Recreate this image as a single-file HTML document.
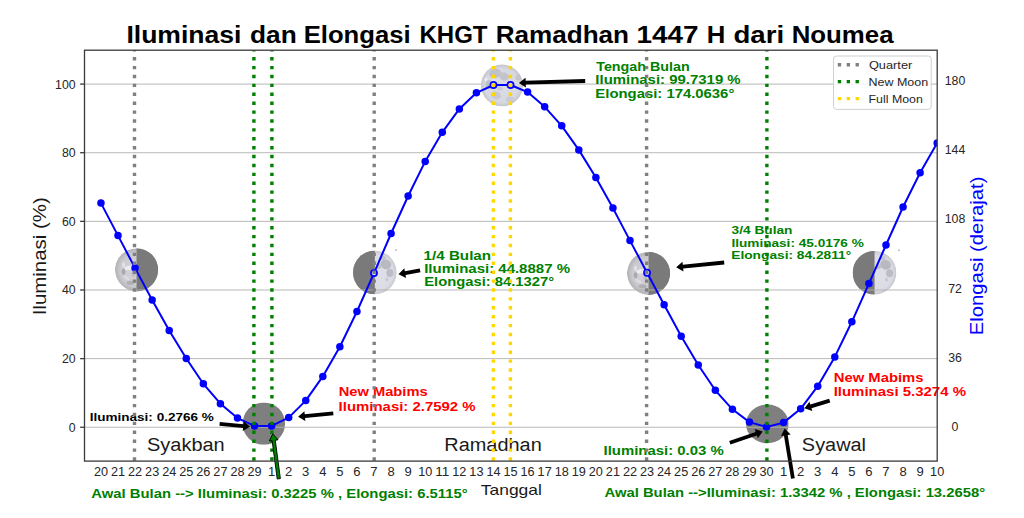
<!DOCTYPE html>
<html><head><meta charset="utf-8"><style>html,body{margin:0;padding:0;width:1024px;height:518px;overflow:hidden;background:#fff}</style></head><body>
<svg width="1024" height="518" viewBox="0 0 1024 518" style="position:absolute;left:0;top:0;font-family:'Liberation Sans', sans-serif">
<rect width="1024" height="518" fill="#fff"/>
<defs><radialGradient id="gfull"><stop offset="0" stop-color="#dcdce6"/><stop offset="0.8" stop-color="#d8d8e2"/><stop offset="1" stop-color="#c4c4ca"/></radialGradient><radialGradient id="glight"><stop offset="0" stop-color="#e0e0ea"/><stop offset="0.82" stop-color="#dcdce6"/><stop offset="1" stop-color="#c8c8ce"/></radialGradient><radialGradient id="ggray"><stop offset="0" stop-color="#d6d6da"/><stop offset="0.75" stop-color="#cbcbcf"/><stop offset="1" stop-color="#b2b2b6"/></radialGradient></defs>
<clipPath id="c136269"><circle cx="136.55" cy="269.85" r="21.6"/></clipPath>
<g clip-path="url(#c136269)">
<circle cx="136.55" cy="269.85" r="21.6" fill="url(#ggray)"/>
<ellipse cx="128.55" cy="267.85" rx="4" ry="2.2" fill="#ececf0" transform="rotate(-10 128.55 267.85)"/>
<ellipse cx="123.55" cy="264.85" rx="1.4" ry="2.8" fill="#e4e4e8" transform="rotate(0 123.55 264.85)"/>
<ellipse cx="131.55" cy="260.85" rx="2" ry="1.4" fill="#e0e0e4" transform="rotate(0 131.55 260.85)"/>
<ellipse cx="126.55" cy="277.85" rx="3.5" ry="1.6" fill="#dcdce0" transform="rotate(30 126.55 277.85)"/>
<ellipse cx="123.55" cy="271.85" rx="1.8" ry="3" fill="#a9a9ad" transform="rotate(0 123.55 271.85)"/>
<ellipse cx="130.55" cy="282.85" rx="4" ry="2" fill="#b0b0b4" transform="rotate(0 130.55 282.85)"/>
<ellipse cx="133.55" cy="273.85" rx="2" ry="3" fill="#bdbdc1" transform="rotate(0 133.55 273.85)"/>
<rect x="136.55" y="248.25000000000003" width="21.6" height="43.2" fill="#7a7a7a"/>
</g>
<clipPath id="c263423"><circle cx="263.85" cy="423.6" r="21.2"/></clipPath>
<g clip-path="url(#c263423)">
<rect x="242.65000000000003" y="402.40000000000003" width="42.4" height="42.4" fill="#7f7f7f"/>
</g>
<clipPath id="c374272"><circle cx="374.85" cy="272.4" r="21.9"/></clipPath>
<g clip-path="url(#c374272)">
<circle cx="374.85" cy="272.4" r="21.9" fill="url(#glight)"/>
<ellipse cx="385.85" cy="264.40" rx="5.5" ry="4.8" fill="#b9b9c1" transform="rotate(20 385.85 264.40)"/>
<ellipse cx="389.85" cy="272.90" rx="3.5" ry="4" fill="#bcbcc4" transform="rotate(0 389.85 272.90)"/>
<ellipse cx="378.85" cy="266.40" rx="2.5" ry="2.5" fill="#c2c2ca" transform="rotate(0 378.85 266.40)"/>
<ellipse cx="382.85" cy="257.90" rx="3" ry="2" fill="#c4c4cc" transform="rotate(0 382.85 257.90)"/>
<ellipse cx="386.85" cy="279.40" rx="1.5" ry="2" fill="#c8c8d0" transform="rotate(0 386.85 279.40)"/>
<rect x="352.95000000000005" y="250.49999999999997" width="21.9" height="43.8" fill="#7a7a7a"/>
</g>
<clipPath id="c648273"><circle cx="648.55" cy="273.35" r="21.6"/></clipPath>
<g clip-path="url(#c648273)">
<circle cx="648.55" cy="273.35" r="21.6" fill="url(#ggray)"/>
<ellipse cx="640.55" cy="271.35" rx="4" ry="2.2" fill="#ececf0" transform="rotate(-10 640.55 271.35)"/>
<ellipse cx="635.55" cy="268.35" rx="1.4" ry="2.8" fill="#e4e4e8" transform="rotate(0 635.55 268.35)"/>
<ellipse cx="643.55" cy="264.35" rx="2" ry="1.4" fill="#e0e0e4" transform="rotate(0 643.55 264.35)"/>
<ellipse cx="638.55" cy="281.35" rx="3.5" ry="1.6" fill="#dcdce0" transform="rotate(30 638.55 281.35)"/>
<ellipse cx="635.55" cy="275.35" rx="1.8" ry="3" fill="#a9a9ad" transform="rotate(0 635.55 275.35)"/>
<ellipse cx="642.55" cy="286.35" rx="4" ry="2" fill="#b0b0b4" transform="rotate(0 642.55 286.35)"/>
<ellipse cx="645.55" cy="277.35" rx="2" ry="3" fill="#bdbdc1" transform="rotate(0 645.55 277.35)"/>
<rect x="648.55" y="251.75000000000003" width="21.6" height="43.2" fill="#7a7a7a"/>
</g>
<clipPath id="c767423"><ellipse cx="767.35" cy="423.85" rx="21.35" ry="19.4"/></clipPath>
<g clip-path="url(#c767423)">
<rect x="746.0" y="402.5" width="42.7" height="42.7" fill="#7f7f7f"/>
</g>
<clipPath id="c874272"><circle cx="874.55" cy="272.75" r="21.9"/></clipPath>
<g clip-path="url(#c874272)">
<circle cx="874.55" cy="272.75" r="21.9" fill="url(#glight)"/>
<ellipse cx="885.55" cy="264.75" rx="5.5" ry="4.8" fill="#b9b9c1" transform="rotate(20 885.55 264.75)"/>
<ellipse cx="889.55" cy="273.25" rx="3.5" ry="4" fill="#bcbcc4" transform="rotate(0 889.55 273.25)"/>
<ellipse cx="878.55" cy="266.75" rx="2.5" ry="2.5" fill="#c2c2ca" transform="rotate(0 878.55 266.75)"/>
<ellipse cx="882.55" cy="258.25" rx="3" ry="2" fill="#c4c4cc" transform="rotate(0 882.55 258.25)"/>
<ellipse cx="886.55" cy="279.75" rx="1.5" ry="2" fill="#c8c8d0" transform="rotate(0 886.55 279.75)"/>
<rect x="852.65" y="250.85" width="21.9" height="43.8" fill="#7a7a7a"/>
</g>
<rect x="395.5" y="249.5" width="1.2" height="1.2" fill="#777"/>
<rect x="898.3" y="249.6" width="1.2" height="1.2" fill="#777"/>
<line x1="84.5" y1="427.25" x2="937.2" y2="427.25" stroke="#b0b0b0" stroke-width="0.9"/>
<line x1="84.5" y1="358.62" x2="937.2" y2="358.62" stroke="#b0b0b0" stroke-width="0.9"/>
<line x1="84.5" y1="289.99" x2="937.2" y2="289.99" stroke="#b0b0b0" stroke-width="0.9"/>
<line x1="84.5" y1="221.35" x2="937.2" y2="221.35" stroke="#b0b0b0" stroke-width="0.9"/>
<line x1="84.5" y1="152.72" x2="937.2" y2="152.72" stroke="#b0b0b0" stroke-width="0.9"/>
<line x1="84.5" y1="84.09" x2="937.2" y2="84.09" stroke="#b0b0b0" stroke-width="0.9"/>
<clipPath id="c50285"><circle cx="502.0" cy="85.4" r="21.1"/></clipPath>
<g clip-path="url(#c50285)">
<circle cx="502.0" cy="85.4" r="21.1" fill="url(#gfull)"/>
<ellipse cx="495.00" cy="73.40" rx="6" ry="4.5" fill="#c0c0c8" transform="rotate(-15 495.00 73.40)"/>
<ellipse cx="504.00" cy="76.40" rx="5" ry="4" fill="#c3c3cb" transform="rotate(20 504.00 76.40)"/>
<ellipse cx="489.00" cy="84.40" rx="3.5" ry="4.5" fill="#bfbfc7" transform="rotate(0 489.00 84.40)"/>
<ellipse cx="518.00" cy="77.40" rx="2.5" ry="3" fill="#c4c4cc" transform="rotate(0 518.00 77.40)"/>
<ellipse cx="496.00" cy="95.40" rx="5" ry="4" fill="#c8c8d0" transform="rotate(10 496.00 95.40)"/>
<ellipse cx="510.00" cy="99.40" rx="4" ry="3" fill="#cacad2" transform="rotate(0 510.00 99.40)"/>
<ellipse cx="512.00" cy="84.40" rx="2.5" ry="2" fill="#c6c6ce" transform="rotate(0 512.00 84.40)"/>
<ellipse cx="500.00" cy="88.40" rx="3" ry="2" fill="#cacad2" transform="rotate(0 500.00 88.40)"/>
<ellipse cx="486.00" cy="79.40" rx="1.6" ry="1.6" fill="#eeeef4" transform="rotate(0 486.00 79.40)"/>
<ellipse cx="493.00" cy="80.40" rx="2.5" ry="1.4" fill="#e2e2ea" transform="rotate(0 493.00 80.40)"/>
</g>
<text x="596.24" y="70.60" font-size="12.9" fill="#008000" font-weight="bold" text-anchor="start" textLength="93.48" lengthAdjust="spacingAndGlyphs">Tengah Bulan</text>
<text x="595.34" y="84.40" font-size="12.9" fill="#008000" font-weight="bold" text-anchor="start" textLength="145.30" lengthAdjust="spacingAndGlyphs">Iluminasi: 99.7319 %</text>
<text x="595.35" y="97.50" font-size="12.9" fill="#008000" font-weight="bold" text-anchor="start" textLength="139.00" lengthAdjust="spacingAndGlyphs">Elongasi: 174.0636°</text>
<text x="423.62" y="259.50" font-size="12.9" fill="#008000" font-weight="bold" text-anchor="start" textLength="67.45" lengthAdjust="spacingAndGlyphs">1/4 Bulan</text>
<text x="424.18" y="272.80" font-size="12.9" fill="#008000" font-weight="bold" text-anchor="start" textLength="145.79" lengthAdjust="spacingAndGlyphs">Iluminasi: 44.8887 %</text>
<text x="424.21" y="286.30" font-size="12.9" fill="#008000" font-weight="bold" text-anchor="start" textLength="129.96" lengthAdjust="spacingAndGlyphs">Elongasi: 84.1327°</text>
<text x="731.63" y="233.60" font-size="11.6" fill="#008000" font-weight="bold" text-anchor="start" textLength="60.85" lengthAdjust="spacingAndGlyphs">3/4 Bulan</text>
<text x="731.40" y="246.60" font-size="11.6" fill="#008000" font-weight="bold" text-anchor="start" textLength="132.45" lengthAdjust="spacingAndGlyphs">Iluminasi: 45.0176 %</text>
<text x="731.27" y="259.40" font-size="11.6" fill="#008000" font-weight="bold" text-anchor="start" textLength="119.92" lengthAdjust="spacingAndGlyphs">Elongasi: 84.2811°</text>
<text x="89.72" y="420.50" font-size="11.6" fill="#000" font-weight="bold" text-anchor="start" textLength="124.08" lengthAdjust="spacingAndGlyphs">Iluminasi: 0.2766 %</text>
<text x="338.66" y="396.10" font-size="12.6" fill="#ff0000" font-weight="bold" text-anchor="start" textLength="89.02" lengthAdjust="spacingAndGlyphs">New Mabims</text>
<text x="338.62" y="410.70" font-size="12.6" fill="#ff0000" font-weight="bold" text-anchor="start" textLength="136.98" lengthAdjust="spacingAndGlyphs">Iluminasi: 2.7592 %</text>
<text x="833.69" y="382.40" font-size="12.6" fill="#ff0000" font-weight="bold" text-anchor="start" textLength="89.84" lengthAdjust="spacingAndGlyphs">New Mabims</text>
<text x="833.67" y="396.10" font-size="12.6" fill="#ff0000" font-weight="bold" text-anchor="start" textLength="132.36" lengthAdjust="spacingAndGlyphs">Iluminasi 5.3274 %</text>
<text x="603.49" y="455.00" font-size="12.9" fill="#008000" font-weight="bold" text-anchor="start" textLength="120.29" lengthAdjust="spacingAndGlyphs">Iluminasi: 0.03 %</text>
<text x="146.99" y="451.00" font-size="17.6" fill="#1a1a1a" font-weight="normal" text-anchor="start" textLength="77.71" lengthAdjust="spacingAndGlyphs">Syakban</text>
<text x="444.33" y="451.00" font-size="17.6" fill="#1a1a1a" font-weight="normal" text-anchor="start" textLength="97.43" lengthAdjust="spacingAndGlyphs">Ramadhan</text>
<text x="801.88" y="450.90" font-size="17.6" fill="#1a1a1a" font-weight="normal" text-anchor="start" textLength="64.15" lengthAdjust="spacingAndGlyphs">Syawal</text>
<clipPath id="axclip"><rect x="84.5" y="50.2" width="852.7" height="410.90000000000003"/></clipPath>
<g clip-path="url(#axclip)">
<polyline points="100.95,203.10 118.02,235.60 135.08,268.10 152.15,300.00 169.21,330.60 186.28,358.50 203.35,383.80 220.41,403.70 237.48,418.10 254.54,425.90 271.61,425.90 288.68,417.60 305.74,400.60 322.81,376.40 339.87,346.80 356.94,311.50 374.01,273.10 391.07,233.50 408.14,196.00 425.20,161.40 442.27,132.35 459.34,108.90 476.40,92.80 493.47,85.00 510.53,85.00 527.60,92.10 544.67,106.80 561.73,125.80 578.80,149.90 595.86,177.50 612.93,208.10 630.00,240.60 647.06,272.70 664.13,304.80 681.19,336.20 698.26,365.00 715.33,390.30 732.39,409.30 749.46,422.10 766.52,427.00 783.59,422.60 800.66,408.80 817.72,386.20 834.79,356.90 851.85,321.80 868.92,283.60 885.99,245.00 903.05,207.00 920.12,172.80 937.18,143.00" fill="none" stroke="#0000ff" stroke-width="2.0" stroke-linejoin="round"/>
<circle cx="100.95" cy="203.10" r="3.75" fill="#0000ff"/>
<circle cx="118.02" cy="235.60" r="3.75" fill="#0000ff"/>
<circle cx="135.08" cy="268.10" r="3.75" fill="#0000ff"/>
<circle cx="152.15" cy="300.00" r="3.75" fill="#0000ff"/>
<circle cx="169.21" cy="330.60" r="3.75" fill="#0000ff"/>
<circle cx="186.28" cy="358.50" r="3.75" fill="#0000ff"/>
<circle cx="203.35" cy="383.80" r="3.75" fill="#0000ff"/>
<circle cx="220.41" cy="403.70" r="3.75" fill="#0000ff"/>
<circle cx="237.48" cy="418.10" r="3.75" fill="#0000ff"/>
<circle cx="254.54" cy="425.90" r="3.75" fill="#0000ff"/>
<circle cx="271.61" cy="425.90" r="3.75" fill="#0000ff"/>
<circle cx="288.68" cy="417.60" r="3.75" fill="#0000ff"/>
<circle cx="305.74" cy="400.60" r="3.75" fill="#0000ff"/>
<circle cx="322.81" cy="376.40" r="3.75" fill="#0000ff"/>
<circle cx="339.87" cy="346.80" r="3.75" fill="#0000ff"/>
<circle cx="356.94" cy="311.50" r="3.75" fill="#0000ff"/>
<circle cx="374.01" cy="273.10" r="3.05" fill="#dcdce6" stroke="#0000ff" stroke-width="1.75"/>
<circle cx="391.07" cy="233.50" r="3.75" fill="#0000ff"/>
<circle cx="408.14" cy="196.00" r="3.75" fill="#0000ff"/>
<circle cx="425.20" cy="161.40" r="3.75" fill="#0000ff"/>
<circle cx="442.27" cy="132.35" r="3.75" fill="#0000ff"/>
<circle cx="459.34" cy="108.90" r="3.75" fill="#0000ff"/>
<circle cx="476.40" cy="92.80" r="3.75" fill="#0000ff"/>
<circle cx="493.47" cy="85.00" r="3.05" fill="#dcdce6" stroke="#0000ff" stroke-width="1.75"/>
<circle cx="510.53" cy="85.00" r="3.05" fill="#dcdce6" stroke="#0000ff" stroke-width="1.75"/>
<circle cx="527.60" cy="92.10" r="3.75" fill="#0000ff"/>
<circle cx="544.67" cy="106.80" r="3.75" fill="#0000ff"/>
<circle cx="561.73" cy="125.80" r="3.75" fill="#0000ff"/>
<circle cx="578.80" cy="149.90" r="3.75" fill="#0000ff"/>
<circle cx="595.86" cy="177.50" r="3.75" fill="#0000ff"/>
<circle cx="612.93" cy="208.10" r="3.75" fill="#0000ff"/>
<circle cx="630.00" cy="240.60" r="3.75" fill="#0000ff"/>
<circle cx="647.06" cy="272.70" r="3.05" fill="#dcdce6" stroke="#0000ff" stroke-width="1.75"/>
<circle cx="664.13" cy="304.80" r="3.75" fill="#0000ff"/>
<circle cx="681.19" cy="336.20" r="3.75" fill="#0000ff"/>
<circle cx="698.26" cy="365.00" r="3.75" fill="#0000ff"/>
<circle cx="715.33" cy="390.30" r="3.75" fill="#0000ff"/>
<circle cx="732.39" cy="409.30" r="3.75" fill="#0000ff"/>
<circle cx="749.46" cy="422.10" r="3.75" fill="#0000ff"/>
<circle cx="766.52" cy="427.00" r="3.75" fill="#0000ff"/>
<circle cx="783.59" cy="422.60" r="3.75" fill="#0000ff"/>
<circle cx="800.66" cy="408.80" r="3.75" fill="#0000ff"/>
<circle cx="817.72" cy="386.20" r="3.75" fill="#0000ff"/>
<circle cx="834.79" cy="356.90" r="3.75" fill="#0000ff"/>
<circle cx="851.85" cy="321.80" r="3.75" fill="#0000ff"/>
<circle cx="868.92" cy="283.60" r="3.75" fill="#0000ff"/>
<circle cx="885.99" cy="245.00" r="3.75" fill="#0000ff"/>
<circle cx="903.05" cy="207.00" r="3.75" fill="#0000ff"/>
<circle cx="920.12" cy="172.80" r="3.75" fill="#0000ff"/>
<circle cx="937.18" cy="143.00" r="3.75" fill="#0000ff"/>
</g>
<line x1="134.50" y1="460.7" x2="134.50" y2="50.2" stroke="#808080" stroke-width="3.4" stroke-dasharray="3.4 5.495"/>
<line x1="374.20" y1="460.7" x2="374.20" y2="50.2" stroke="#808080" stroke-width="3.4" stroke-dasharray="3.4 5.495"/>
<line x1="646.60" y1="460.7" x2="646.60" y2="50.2" stroke="#808080" stroke-width="3.4" stroke-dasharray="3.4 5.495"/>
<line x1="253.90" y1="460.7" x2="253.90" y2="50.2" stroke="#008000" stroke-width="3.4" stroke-dasharray="3.4 5.495"/>
<line x1="271.90" y1="460.7" x2="271.90" y2="50.2" stroke="#008000" stroke-width="3.4" stroke-dasharray="3.4 5.495"/>
<line x1="766.90" y1="460.7" x2="766.90" y2="50.2" stroke="#008000" stroke-width="3.4" stroke-dasharray="3.4 5.495"/>
<line x1="493.40" y1="460.7" x2="493.40" y2="50.2" stroke="#ffd700" stroke-width="3.4" stroke-dasharray="3.4 5.495"/>
<line x1="510.40" y1="460.7" x2="510.40" y2="50.2" stroke="#ffd700" stroke-width="3.4" stroke-dasharray="3.4 5.495"/>
<polygon points="585.15,79.10 525.64,80.81 525.56,77.81 518.90,82.90 525.84,87.60 525.75,84.60 585.25,82.90" fill="#000"/>
<polygon points="419.75,268.43 404.84,271.19 404.29,268.24 398.50,274.30 406.08,277.88 405.53,274.93 420.45,272.17" fill="#000"/>
<polygon points="724.01,260.61 682.78,264.73 682.48,261.75 676.20,267.30 683.45,271.50 683.16,268.51 724.39,264.39" fill="#000"/>
<polygon points="219.43,425.79 243.05,427.97 242.78,430.96 250.00,426.70 243.68,421.20 243.40,424.18 219.77,422.01" fill="#000"/>
<polygon points="333.12,411.51 304.69,414.17 304.41,411.19 298.10,416.70 305.33,420.94 305.05,417.96 333.48,415.29" fill="#000"/>
<polygon points="829.15,398.78 810.35,404.50 809.48,401.63 804.40,408.30 812.33,411.01 811.46,408.14 830.25,402.42" fill="#000"/>
<polygon points="730.42,444.60 756.89,435.51 757.86,438.34 762.70,431.50 754.68,429.07 755.65,431.91 729.18,441.00" fill="#000"/>
<polygon points="280.39,478.59 275.25,440.13 278.02,439.76 272.80,433.90 269.30,440.93 272.08,440.55 277.21,479.01" fill="#008000" stroke="#000" stroke-width="0.9" stroke-linejoin="miter"/>
<polygon points="794.77,478.19 787.68,435.00 790.64,434.52 784.70,428.60 780.97,436.10 783.93,435.62 791.03,478.81" fill="#000"/>
<rect x="84.5" y="50.2" width="852.7" height="410.90000000000003" fill="none" stroke="#3a3a3a" stroke-width="1.3"/>
<line x1="80.1" y1="427.25" x2="84.5" y2="427.25" stroke="#3a3a3a" stroke-width="1.3"/>
<text x="75.60" y="431.70" font-size="11.9" fill="#262626" font-weight="normal" text-anchor="end" textLength="6.85" lengthAdjust="spacingAndGlyphs">0</text>
<line x1="80.1" y1="358.62" x2="84.5" y2="358.62" stroke="#3a3a3a" stroke-width="1.3"/>
<text x="75.60" y="363.07" font-size="11.9" fill="#262626" font-weight="normal" text-anchor="end" textLength="13.70" lengthAdjust="spacingAndGlyphs">20</text>
<line x1="80.1" y1="289.99" x2="84.5" y2="289.99" stroke="#3a3a3a" stroke-width="1.3"/>
<text x="75.60" y="294.44" font-size="11.9" fill="#262626" font-weight="normal" text-anchor="end" textLength="13.70" lengthAdjust="spacingAndGlyphs">40</text>
<line x1="80.1" y1="221.35" x2="84.5" y2="221.35" stroke="#3a3a3a" stroke-width="1.3"/>
<text x="75.60" y="225.80" font-size="11.9" fill="#262626" font-weight="normal" text-anchor="end" textLength="13.70" lengthAdjust="spacingAndGlyphs">60</text>
<line x1="80.1" y1="152.72" x2="84.5" y2="152.72" stroke="#3a3a3a" stroke-width="1.3"/>
<text x="75.60" y="157.17" font-size="11.9" fill="#262626" font-weight="normal" text-anchor="end" textLength="13.70" lengthAdjust="spacingAndGlyphs">80</text>
<line x1="80.1" y1="84.09" x2="84.5" y2="84.09" stroke="#3a3a3a" stroke-width="1.3"/>
<text x="75.60" y="88.54" font-size="11.9" fill="#262626" font-weight="normal" text-anchor="end" textLength="20.55" lengthAdjust="spacingAndGlyphs">100</text>
<text x="955.00" y="431.20" font-size="11.9" fill="#262626" font-weight="normal" text-anchor="middle" textLength="6.85" lengthAdjust="spacingAndGlyphs">0</text>
<text x="955.00" y="361.94" font-size="11.9" fill="#262626" font-weight="normal" text-anchor="middle" textLength="13.70" lengthAdjust="spacingAndGlyphs">36</text>
<text x="955.00" y="292.68" font-size="11.9" fill="#262626" font-weight="normal" text-anchor="middle" textLength="13.70" lengthAdjust="spacingAndGlyphs">72</text>
<text x="955.00" y="223.42" font-size="11.9" fill="#262626" font-weight="normal" text-anchor="middle" textLength="20.55" lengthAdjust="spacingAndGlyphs">108</text>
<text x="955.00" y="154.16" font-size="11.9" fill="#262626" font-weight="normal" text-anchor="middle" textLength="20.55" lengthAdjust="spacingAndGlyphs">144</text>
<text x="955.00" y="84.90" font-size="11.9" fill="#262626" font-weight="normal" text-anchor="middle" textLength="20.55" lengthAdjust="spacingAndGlyphs">180</text>
<text x="100.95" y="475.50" font-size="11.9" fill="#262626" font-weight="normal" text-anchor="middle" textLength="14.10" lengthAdjust="spacingAndGlyphs">20</text>
<text x="118.02" y="475.50" font-size="11.9" fill="#262626" font-weight="normal" text-anchor="middle" textLength="14.10" lengthAdjust="spacingAndGlyphs">21</text>
<text x="135.08" y="475.50" font-size="11.9" fill="#262626" font-weight="normal" text-anchor="middle" textLength="14.10" lengthAdjust="spacingAndGlyphs">22</text>
<text x="152.15" y="475.50" font-size="11.9" fill="#262626" font-weight="normal" text-anchor="middle" textLength="14.10" lengthAdjust="spacingAndGlyphs">23</text>
<text x="169.21" y="475.50" font-size="11.9" fill="#262626" font-weight="normal" text-anchor="middle" textLength="14.10" lengthAdjust="spacingAndGlyphs">24</text>
<text x="186.28" y="475.50" font-size="11.9" fill="#262626" font-weight="normal" text-anchor="middle" textLength="14.10" lengthAdjust="spacingAndGlyphs">25</text>
<text x="203.35" y="475.50" font-size="11.9" fill="#262626" font-weight="normal" text-anchor="middle" textLength="14.10" lengthAdjust="spacingAndGlyphs">26</text>
<text x="220.41" y="475.50" font-size="11.9" fill="#262626" font-weight="normal" text-anchor="middle" textLength="14.10" lengthAdjust="spacingAndGlyphs">27</text>
<text x="237.48" y="475.50" font-size="11.9" fill="#262626" font-weight="normal" text-anchor="middle" textLength="14.10" lengthAdjust="spacingAndGlyphs">28</text>
<text x="254.54" y="475.50" font-size="11.9" fill="#262626" font-weight="normal" text-anchor="middle" textLength="14.10" lengthAdjust="spacingAndGlyphs">29</text>
<text x="271.61" y="475.50" font-size="11.9" fill="#262626" font-weight="normal" text-anchor="middle" textLength="7.25" lengthAdjust="spacingAndGlyphs">1</text>
<text x="288.68" y="475.50" font-size="11.9" fill="#262626" font-weight="normal" text-anchor="middle" textLength="7.25" lengthAdjust="spacingAndGlyphs">2</text>
<text x="305.74" y="475.50" font-size="11.9" fill="#262626" font-weight="normal" text-anchor="middle" textLength="7.25" lengthAdjust="spacingAndGlyphs">3</text>
<text x="322.81" y="475.50" font-size="11.9" fill="#262626" font-weight="normal" text-anchor="middle" textLength="7.25" lengthAdjust="spacingAndGlyphs">4</text>
<text x="339.87" y="475.50" font-size="11.9" fill="#262626" font-weight="normal" text-anchor="middle" textLength="7.25" lengthAdjust="spacingAndGlyphs">5</text>
<text x="356.94" y="475.50" font-size="11.9" fill="#262626" font-weight="normal" text-anchor="middle" textLength="7.25" lengthAdjust="spacingAndGlyphs">6</text>
<text x="374.01" y="475.50" font-size="11.9" fill="#262626" font-weight="normal" text-anchor="middle" textLength="7.25" lengthAdjust="spacingAndGlyphs">7</text>
<text x="391.07" y="475.50" font-size="11.9" fill="#262626" font-weight="normal" text-anchor="middle" textLength="7.25" lengthAdjust="spacingAndGlyphs">8</text>
<text x="408.14" y="475.50" font-size="11.9" fill="#262626" font-weight="normal" text-anchor="middle" textLength="7.25" lengthAdjust="spacingAndGlyphs">9</text>
<text x="425.20" y="475.50" font-size="11.9" fill="#262626" font-weight="normal" text-anchor="middle" textLength="14.10" lengthAdjust="spacingAndGlyphs">10</text>
<text x="442.27" y="475.50" font-size="11.9" fill="#262626" font-weight="normal" text-anchor="middle" textLength="14.10" lengthAdjust="spacingAndGlyphs">11</text>
<text x="459.34" y="475.50" font-size="11.9" fill="#262626" font-weight="normal" text-anchor="middle" textLength="14.10" lengthAdjust="spacingAndGlyphs">12</text>
<text x="476.40" y="475.50" font-size="11.9" fill="#262626" font-weight="normal" text-anchor="middle" textLength="14.10" lengthAdjust="spacingAndGlyphs">13</text>
<text x="493.47" y="475.50" font-size="11.9" fill="#262626" font-weight="normal" text-anchor="middle" textLength="14.10" lengthAdjust="spacingAndGlyphs">14</text>
<text x="510.53" y="475.50" font-size="11.9" fill="#262626" font-weight="normal" text-anchor="middle" textLength="14.10" lengthAdjust="spacingAndGlyphs">15</text>
<text x="527.60" y="475.50" font-size="11.9" fill="#262626" font-weight="normal" text-anchor="middle" textLength="14.10" lengthAdjust="spacingAndGlyphs">16</text>
<text x="544.67" y="475.50" font-size="11.9" fill="#262626" font-weight="normal" text-anchor="middle" textLength="14.10" lengthAdjust="spacingAndGlyphs">17</text>
<text x="561.73" y="475.50" font-size="11.9" fill="#262626" font-weight="normal" text-anchor="middle" textLength="14.10" lengthAdjust="spacingAndGlyphs">18</text>
<text x="578.80" y="475.50" font-size="11.9" fill="#262626" font-weight="normal" text-anchor="middle" textLength="14.10" lengthAdjust="spacingAndGlyphs">19</text>
<text x="595.86" y="475.50" font-size="11.9" fill="#262626" font-weight="normal" text-anchor="middle" textLength="14.10" lengthAdjust="spacingAndGlyphs">20</text>
<text x="612.93" y="475.50" font-size="11.9" fill="#262626" font-weight="normal" text-anchor="middle" textLength="14.10" lengthAdjust="spacingAndGlyphs">21</text>
<text x="630.00" y="475.50" font-size="11.9" fill="#262626" font-weight="normal" text-anchor="middle" textLength="14.10" lengthAdjust="spacingAndGlyphs">22</text>
<text x="647.06" y="475.50" font-size="11.9" fill="#262626" font-weight="normal" text-anchor="middle" textLength="14.10" lengthAdjust="spacingAndGlyphs">23</text>
<text x="664.13" y="475.50" font-size="11.9" fill="#262626" font-weight="normal" text-anchor="middle" textLength="14.10" lengthAdjust="spacingAndGlyphs">24</text>
<text x="681.19" y="475.50" font-size="11.9" fill="#262626" font-weight="normal" text-anchor="middle" textLength="14.10" lengthAdjust="spacingAndGlyphs">25</text>
<text x="698.26" y="475.50" font-size="11.9" fill="#262626" font-weight="normal" text-anchor="middle" textLength="14.10" lengthAdjust="spacingAndGlyphs">26</text>
<text x="715.33" y="475.50" font-size="11.9" fill="#262626" font-weight="normal" text-anchor="middle" textLength="14.10" lengthAdjust="spacingAndGlyphs">27</text>
<text x="732.39" y="475.50" font-size="11.9" fill="#262626" font-weight="normal" text-anchor="middle" textLength="14.10" lengthAdjust="spacingAndGlyphs">28</text>
<text x="749.46" y="475.50" font-size="11.9" fill="#262626" font-weight="normal" text-anchor="middle" textLength="14.10" lengthAdjust="spacingAndGlyphs">29</text>
<text x="766.52" y="475.50" font-size="11.9" fill="#262626" font-weight="normal" text-anchor="middle" textLength="14.10" lengthAdjust="spacingAndGlyphs">30</text>
<text x="783.59" y="475.50" font-size="11.9" fill="#262626" font-weight="normal" text-anchor="middle" textLength="7.25" lengthAdjust="spacingAndGlyphs">1</text>
<text x="800.66" y="475.50" font-size="11.9" fill="#262626" font-weight="normal" text-anchor="middle" textLength="7.25" lengthAdjust="spacingAndGlyphs">2</text>
<text x="817.72" y="475.50" font-size="11.9" fill="#262626" font-weight="normal" text-anchor="middle" textLength="7.25" lengthAdjust="spacingAndGlyphs">3</text>
<text x="834.79" y="475.50" font-size="11.9" fill="#262626" font-weight="normal" text-anchor="middle" textLength="7.25" lengthAdjust="spacingAndGlyphs">4</text>
<text x="851.85" y="475.50" font-size="11.9" fill="#262626" font-weight="normal" text-anchor="middle" textLength="7.25" lengthAdjust="spacingAndGlyphs">5</text>
<text x="868.92" y="475.50" font-size="11.9" fill="#262626" font-weight="normal" text-anchor="middle" textLength="7.25" lengthAdjust="spacingAndGlyphs">6</text>
<text x="885.99" y="475.50" font-size="11.9" fill="#262626" font-weight="normal" text-anchor="middle" textLength="7.25" lengthAdjust="spacingAndGlyphs">7</text>
<text x="903.05" y="475.50" font-size="11.9" fill="#262626" font-weight="normal" text-anchor="middle" textLength="7.25" lengthAdjust="spacingAndGlyphs">8</text>
<text x="920.12" y="475.50" font-size="11.9" fill="#262626" font-weight="normal" text-anchor="middle" textLength="7.25" lengthAdjust="spacingAndGlyphs">9</text>
<text x="937.18" y="475.50" font-size="11.9" fill="#262626" font-weight="normal" text-anchor="middle" textLength="14.10" lengthAdjust="spacingAndGlyphs">10</text>
<text x="511.33" y="494.90" font-size="14.2" fill="#1a1a1a" font-weight="normal" text-anchor="middle" textLength="61.00" lengthAdjust="spacingAndGlyphs">Tanggal</text>
<text x="0" y="0" font-size="17.8" fill="#1a1a1a" text-anchor="middle" transform="translate(46.4,256.3) rotate(-90)" textLength="118.0" lengthAdjust="spacingAndGlyphs">Iluminasi (%)</text>
<text x="0" y="0" font-size="18.2" fill="#0000ff" text-anchor="middle" transform="translate(983.0,255.9) rotate(-90)" textLength="158.6" lengthAdjust="spacingAndGlyphs">Elongasi (derajat)</text>
<text x="126.40" y="42.60" font-size="23.3" fill="#000" font-weight="bold" text-anchor="start" textLength="115.11" lengthAdjust="spacingAndGlyphs">Iluminasi</text>
<text x="250.05" y="42.60" font-size="23.3" fill="#000" font-weight="bold" text-anchor="start" textLength="46.63" lengthAdjust="spacingAndGlyphs">dan</text>
<text x="303.67" y="42.60" font-size="23.3" fill="#000" font-weight="bold" text-anchor="start" textLength="106.98" lengthAdjust="spacingAndGlyphs">Elongasi</text>
<text x="419.44" y="42.60" font-size="23.3" fill="#000" font-weight="bold" text-anchor="start" textLength="68.06" lengthAdjust="spacingAndGlyphs">KHGT</text>
<text x="495.67" y="42.60" font-size="23.3" fill="#000" font-weight="bold" text-anchor="start" textLength="133.37" lengthAdjust="spacingAndGlyphs">Ramadhan</text>
<text x="636.44" y="42.60" font-size="23.3" fill="#000" font-weight="bold" text-anchor="start" textLength="62.11" lengthAdjust="spacingAndGlyphs">1447</text>
<text x="706.88" y="42.60" font-size="23.3" fill="#000" font-weight="bold" text-anchor="start" textLength="18.58" lengthAdjust="spacingAndGlyphs">H</text>
<text x="733.51" y="42.60" font-size="23.3" fill="#000" font-weight="bold" text-anchor="start" textLength="50.62" lengthAdjust="spacingAndGlyphs">dari</text>
<text x="791.69" y="42.60" font-size="23.3" fill="#000" font-weight="bold" text-anchor="start" textLength="101.86" lengthAdjust="spacingAndGlyphs">Noumea</text>
<text x="91.36" y="497.60" font-size="12.9" fill="#008000" font-weight="bold" text-anchor="start" textLength="376.29" lengthAdjust="spacingAndGlyphs">Awal Bulan --&gt; Iluminasi: 0.3225 % , Elongasi: 6.5115°</text>
<text x="604.50" y="497.30" font-size="12.9" fill="#008000" font-weight="bold" text-anchor="start" textLength="380.59" lengthAdjust="spacingAndGlyphs">Awal Bulan --&gt;Iluminasi: 1.3342 % , Elongasi: 13.2658°</text>
<rect x="833.5" y="56.0" width="97.7" height="53.4" rx="3" ry="3" fill="#fff" fill-opacity="0.8" stroke="#d0d0d0" stroke-width="1"/>
<line x1="837.8" y1="64.70" x2="859.3" y2="64.70" stroke="#808080" stroke-width="3.36" stroke-dasharray="3.36 5.52"/>
<text x="868.90" y="69.30" font-size="10.2" fill="#262626" font-weight="normal" text-anchor="start" textLength="43.38" lengthAdjust="spacingAndGlyphs">Quarter</text>
<line x1="837.8" y1="81.65" x2="859.3" y2="81.65" stroke="#008000" stroke-width="3.36" stroke-dasharray="3.36 5.52"/>
<text x="868.47" y="86.25" font-size="10.2" fill="#262626" font-weight="normal" text-anchor="start" textLength="59.67" lengthAdjust="spacingAndGlyphs">New Moon</text>
<line x1="837.8" y1="98.60" x2="859.3" y2="98.60" stroke="#ffd700" stroke-width="3.36" stroke-dasharray="3.36 5.52"/>
<text x="868.52" y="103.20" font-size="10.2" fill="#262626" font-weight="normal" text-anchor="start" textLength="54.32" lengthAdjust="spacingAndGlyphs">Full Moon</text>
</svg>
</body></html>
